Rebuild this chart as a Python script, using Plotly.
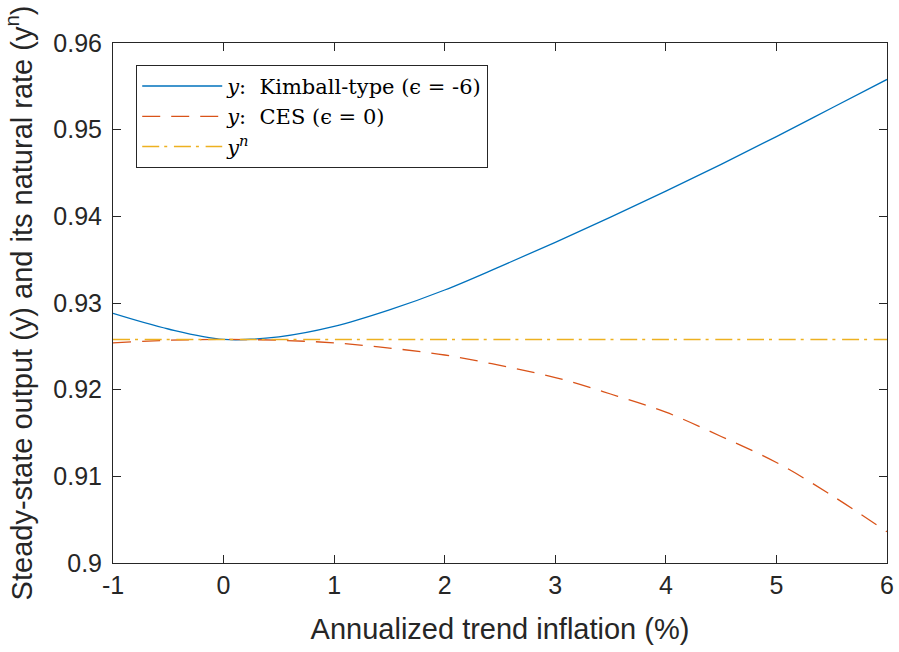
import plotly.graph_objects as go

# Annualized trend inflation (%)
inflation = [-1, -0.5, 0, 0.5, 1, 1.5, 2, 2.5, 3, 3.5, 4, 4.5, 5, 5.5, 6]

# Steady-state output, Kimball-type aggregator (epsilon = -6)
y_kimball = [0.9288, 0.9270, 0.9258, 0.9261, 0.9273, 0.9292, 0.9315, 0.9342,
             0.9370, 0.9399, 0.9429, 0.9460, 0.9492, 0.9525, 0.9558]

# Steady-state output, CES aggregator (epsilon = 0)
y_ces = [0.9254, 0.9257, 0.9258, 0.9257, 0.9254, 0.9248, 0.9240, 0.9228,
         0.9214, 0.9195, 0.9174, 0.9146, 0.9116, 0.9078, 0.9036]

# Natural rate of output
y_natural = [0.9258] * len(inflation)

x_ticks = [-1, 0, 1, 2, 3, 4, 5, 6]
y_ticks = [0.90, 0.91, 0.92, 0.93, 0.94, 0.95, 0.96]
y_tick_labels = ["0.9", "0.91", "0.92", "0.93", "0.94", "0.95", "0.96"]

names = ["<i>y</i>:  Kimball-type (ϵ = -6)",
         "<i>y</i>:  CES (ϵ = 0)",
         "<i>y<sup>n</sup></i>"]

axis_color = "#262626"

fig = go.Figure()
fig.add_trace(go.Scatter(x=inflation, y=y_kimball, mode="lines", name=names[0],
                         line=dict(color="#0072BD", width=1.3, shape="spline")))
fig.add_trace(go.Scatter(x=inflation, y=y_ces, mode="lines", name=names[1],
                         line=dict(color="#D95319", width=1.3, shape="spline",
                                   dash="18px,11px")))
fig.add_trace(go.Scatter(x=inflation, y=y_natural, mode="lines", name=names[2],
                         line=dict(color="#EDB120", width=1.5,
                                   dash="17px,5px,3px,6.7px")))

fig.update_layout(
    width=899, height=652,
    margin=dict(l=113, r=12, t=43, b=89),
    paper_bgcolor="white", plot_bgcolor="white",
    font=dict(family="Liberation Sans, Arial, sans-serif", color=axis_color, size=25),
    showlegend=True,
    legend=dict(
        x=0.03, y=0.958, xanchor="left", yanchor="top",
        bgcolor="white", bordercolor=axis_color, borderwidth=1,
        font=dict(family="DejaVu Serif, Liberation Serif, serif", size=21, color="black"),
        itemwidth=80, tracegroupgap=0,
    ),
)

fig.update_xaxes(
    range=[-1, 6], tickvals=x_ticks, ticktext=[str(v) for v in x_ticks],
    showgrid=False, zeroline=False,
    showline=True, linecolor=axis_color, linewidth=1, mirror="allticks",
    ticks="inside", ticklen=8, tickcolor=axis_color, tickwidth=1,
    tickfont=dict(size=25, color=axis_color),
    title=dict(text="Annualized trend inflation (%)", font=dict(size=29, color=axis_color), standoff=20),
    automargin=False,
)
fig.update_yaxes(
    range=[0.90, 0.96], tickvals=y_ticks, ticktext=y_tick_labels,
    showgrid=False, zeroline=False,
    showline=True, linecolor=axis_color, linewidth=1, mirror="allticks",
    ticks="inside", ticklen=8, tickcolor=axis_color, tickwidth=1,
    tickfont=dict(size=25, color=axis_color), ticklabelstandoff=5,
    title=dict(text="Steady-state output (y) and its natural rate (y<sup>n</sup>)",
               font=dict(size=29, color=axis_color), standoff=12),
    automargin=False,
)

fig.write_html("out.html", config={"displayModeBar": False},
               post_script="document.body.style.margin='0';document.body.style.overflow='hidden';")
